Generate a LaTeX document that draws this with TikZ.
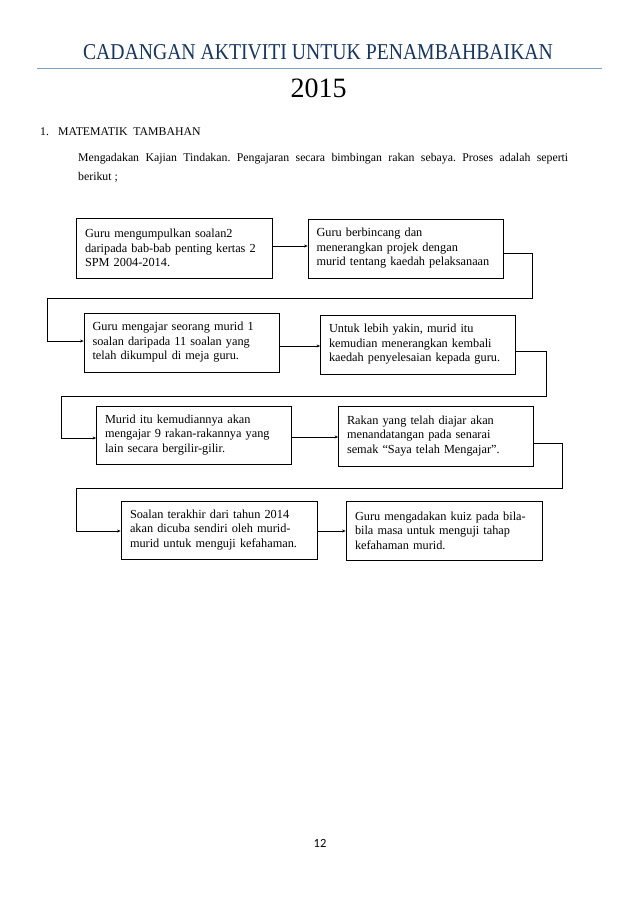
\documentclass[tikz,border=0pt]{standalone}
\usepackage{fontspec}
\usepackage{graphicx}
\setmainfont{Liberation Serif}
\newfontfamily\pagefont{Carlito}
\usetikzlibrary{arrows.meta}
\definecolor{headnavy}{HTML}{17365D}
\definecolor{rulblue}{HTML}{7F9FCB}
\frenchspacing
\tikzset{
  stepbox/.style={draw=black, line width=0.8pt, minimum width=195pt, minimum height=59pt,
    text width=178pt, inner xsep=8.5pt, align=left, anchor=center,
    font=\fontsize{12.3}{14.5}\selectfont},
  arr/.style={draw=black, line width=0.8pt, -{Stealth[length=3.5pt,width=3pt]}},
  conn/.style={draw=black, line width=0.8pt}
}
\begin{document}
\begin{tikzpicture}[x=1pt,y=-1pt]
\useasboundingbox (0,0) rectangle (638,903);
\fill[white] (0,0) rectangle (638,903);
% header
\node[anchor=base, inner sep=0pt, text=headnavy] (title) at (318,59)
  {\resizebox{470pt}{15pt}{\fontsize{22}{22}\selectfont CADANGAN AKTIVITI UNTUK PENAMBAHBAIKAN}};
\draw[rulblue, line width=0.9pt] (37,68) -- (602,68);
\node[anchor=base, inner sep=0pt, font=\fontsize{28}{28}\selectfont] (year) at (318.5,97) {2015};
\node[anchor=base west, inner sep=0pt, font=\fontsize{11.8}{14}\selectfont] (sec) at (40,135)
  {1.\hspace{9pt}MATEMATIK\ \ TAMBAHAN};
\node[anchor=base west, inner sep=0pt, text width=490pt, align=justify,
  font=\fontsize{11.8}{19}\selectfont] (para) at (78,161)
  {Mengadakan Kajian Tindakan. Pengajaran secara bimbingan rakan sebaya. Proses adalah seperti\linebreak berikut ;};
% boxes
\node[stepbox, minimum width=196pt, minimum height=60pt] (b1) at (174,248)
  {Guru mengumpulkan soalan2\\daripada bab-bab penting kertas 2\\SPM 2004-2014.};
\node[stepbox] (b2) at (405.5,248.5)
  {Guru berbincang dan\\menerangkan projek dengan\\murid tentang kaedah pelaksanaan};
\node[stepbox] (b3) at (181.5,342.5)
  {Guru mengajar seorang murid 1\\soalan daripada 11 soalan yang\\telah dikumpul di meja guru.};
\node[stepbox, minimum width=194pt] (b4) at (418,344.5)
  {Untuk lebih yakin, murid itu\\kemudian menerangkan kembali\\kaedah penyelesaian kepada guru.};
\node[stepbox, minimum width=194pt, minimum height=58pt] (b5) at (194,435)
  {Murid itu kemudiannya akan\\mengajar 9 rakan-rakannya yang\\lain secara bergilir-gilir.};
\node[stepbox, minimum width=194pt, minimum height=60pt] (b6) at (436,436)
  {Rakan yang telah diajar akan\\menandatangan pada senarai\\semak \textquotedblleft Saya telah Mengajar\textquotedblright.};
\node[stepbox, minimum width=196pt, minimum height=58pt] (b7) at (219,530)
  {Soalan terakhir dari tahun 2014\\akan dicuba sendiri oleh murid-\\murid untuk menguji kefahaman.};
\node[stepbox, minimum width=196pt] (b8) at (444,530.5)
  {Guru mengadakan kuiz pada bila-\\bila masa untuk menguji tahap\\kefahaman murid.};
% bend points
\coordinate (k1) at (532,298);
\coordinate (k2) at (47,341);
\coordinate (k3) at (546,396);
\coordinate (k4) at (61,438);
\coordinate (k5) at (562,488);
\coordinate (k6) at (76,531);
% connectors
\draw[arr] (b1.east |- 0,246) -- (b2.west |- 0,246);
\draw[arr] (b2.east |- 0,253) -| (k1) -| (k2) -- (k2 -| b3.west);
\draw[arr] (b3.east |- 0,346) -- (b4.west |- 0,346);
\draw[arr] (b4.east |- 0,351) -| (k3) -| (k4) -- (k4 -| b5.west);
\draw[arr] (b5.east |- 0,437) -- (b6.west |- 0,437);
\draw[arr] (b6.east |- 0,443) -| (k5) -| (k6) -- (k6 -| b7.west);
\draw[arr] (b7.east |- 0,531) -- (b8.west |- 0,531);
% page number
\node[anchor=base, inner sep=0pt, font=\pagefont\fontsize{12.5}{12.5}\selectfont] (pg) at (320,847) {12};
\end{tikzpicture}
\end{document}
